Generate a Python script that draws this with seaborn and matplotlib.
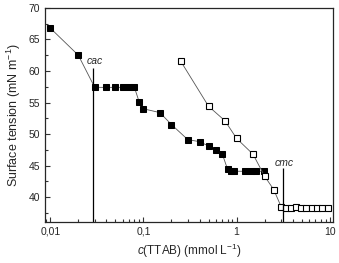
import numpy as np
import pandas as pd
import seaborn as sns
from matplotlib import pyplot as plt
from matplotlib.ticker import FuncFormatter, MultipleLocator, LogLocator

# filled squares (first series)
conc_a = [0.01, 0.02, 0.03, 0.04, 0.05, 0.06, 0.07, 0.08, 0.09, 0.1, 0.15, 0.2, 0.3,
          0.4, 0.5, 0.6, 0.7, 0.8, 0.86, 0.94, 1.22, 1.41, 1.62, 1.95]
st_a = [66.8, 62.5, 57.4, 57.4, 57.4, 57.4, 57.4, 57.4, 55.1, 54.0, 53.4, 51.5, 49.1,
        48.8, 48.1, 47.5, 46.9, 44.4, 44.2, 44.1, 44.1, 44.1, 44.1, 44.1]

# open squares (second series)
conc_b = [0.25, 0.5, 0.75, 1.0, 1.5, 2.0, 2.5, 3.0, 3.35, 3.8, 4.35, 4.9, 5.6,
          6.5, 7.3, 8.2, 9.5]
st_b = [61.6, 54.4, 52.1, 49.3, 46.8, 43.3, 41.2, 38.5, 38.2, 38.2, 38.5, 38.3, 38.2,
        38.2, 38.2, 38.2, 38.2]

cac = 0.029
cmc = 3.13

sns.set_style("ticks")
plt.rcParams['font.family'] = ['Liberation Sans', 'DejaVu Sans']
plt.rcParams['mathtext.fontset'] = 'custom'
plt.rcParams['mathtext.rm'] = 'Liberation Sans'
plt.rcParams['mathtext.it'] = 'Liberation Sans:italic'

df_a = pd.DataFrame({'c': conc_a, 'st': st_a})
df_b = pd.DataFrame({'c': conc_b, 'st': st_b})

fig = plt.figure(figsize=(3.39, 2.63), dpi=100)
ax = fig.add_axes([0.133, 0.157, 0.849, 0.813])

sns.lineplot(data=df_a, x='c', y='st', ax=ax, sort=False, estimator=None,
             color='#555555', linewidth=0.6, marker='s', markersize=3.8,
             markerfacecolor='black', markeredgecolor='black')
sns.lineplot(data=df_b, x='c', y='st', ax=ax, sort=False, estimator=None,
             color='#555555', linewidth=0.6, marker='s', markersize=3.8,
             markerfacecolor='white', markeredgecolor='black', markeredgewidth=0.8)

ax.set_xscale('log')
ax.set_xlim(0.0088, 10.8)
ax.set_ylim(36.1, 70)

ax.vlines(cac, 36.1, 60.4, color='black', linewidth=0.9)
ax.vlines(cmc, 36.1, 44.6, color='black', linewidth=0.9)
ax.text(0.030, 61.1, 'cac', style='italic', fontsize=7.5, ha='center', va='baseline')
ax.text(3.24, 45.0, 'cmc', style='italic', fontsize=7.5, ha='center', va='baseline')

ax.yaxis.set_major_locator(MultipleLocator(5))
ax.yaxis.set_minor_locator(MultipleLocator(2.5))
ax.xaxis.set_major_locator(LogLocator(base=10))
ax.xaxis.set_minor_locator(LogLocator(base=10, subs=np.arange(2, 10)))
ax.xaxis.set_major_formatter(FuncFormatter(lambda v, p: ('%g' % v).replace('.', ',')))
ax.xaxis.set_minor_formatter(FuncFormatter(lambda v, p: ''))

ax.tick_params(which='both', direction='in', labelsize=7.5, width=0.8, color='#333333')
ax.tick_params(which='major', length=3.5)
ax.tick_params(which='minor', length=2)
for s in ax.spines.values():
    s.set_linewidth(0.9)

ax.set_xlabel('$c$(TTAB) (mmol L$^{-1}$)', fontsize=8.5, labelpad=4)
ax.set_ylabel('Surface tension (mN m$^{-1}$)', fontsize=9, labelpad=4)

fig.savefig('out.png', dpi=100)
